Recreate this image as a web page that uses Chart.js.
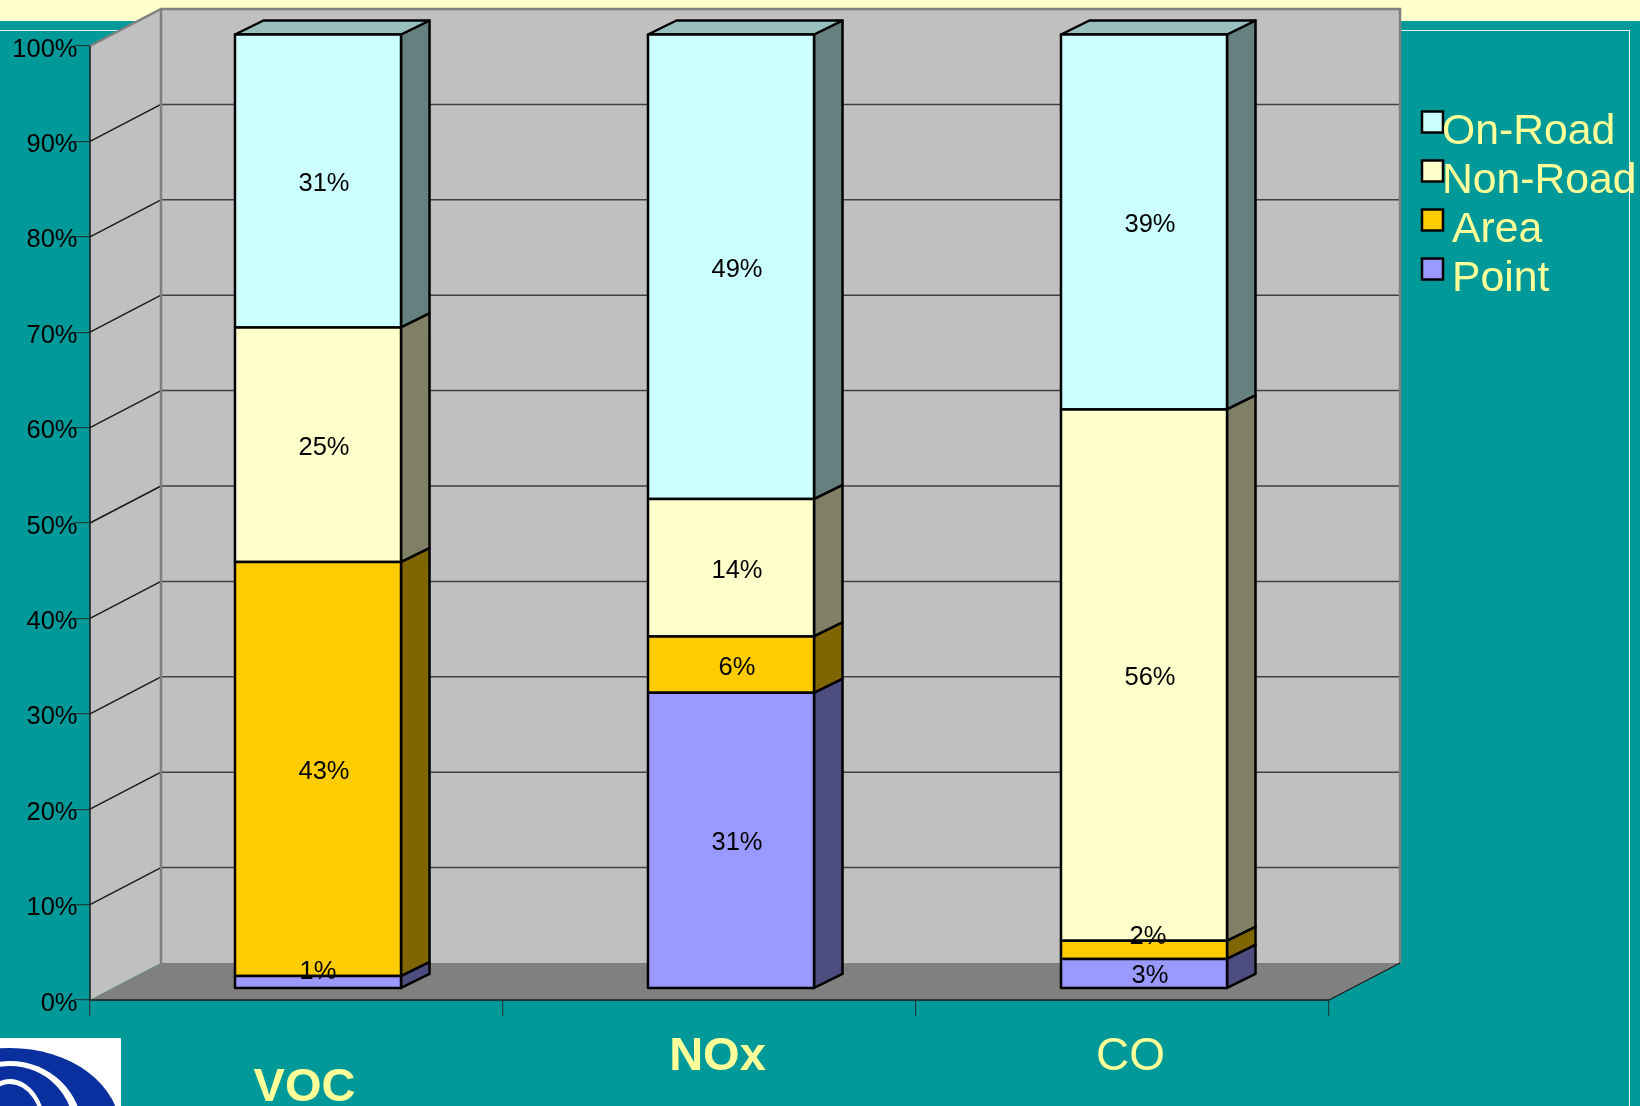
<!DOCTYPE html>
<html>
<head>
<meta charset="utf-8">
<title>Emissions by source</title>
<script src="https://cdn.jsdelivr.net/npm/chart.js@4/dist/chart.umd.min.js"></script>
<style>
  html, body { margin: 0; padding: 0; background: #009999; overflow: hidden; }
  #page { position: relative; width: 1640px; height: 1106px; background: #009999; overflow: hidden; }
  #band { position: absolute; left: 0; top: 0; width: 1640px; height: 21px; background: #FFFFCC; }
  #frame { position: absolute; left: -2px; top: 30px; width: 1630px; height: 1100px; border: 1px solid #E6F5F5; }
  #logo { position: absolute; left: 0; top: 1038px; }
  canvas { position: absolute; left: 0; top: 0; }
</style>
</head>
<body>
<div id="page">
  <div id="band"></div>
  <div id="frame"></div>
  <canvas id="chart" width="1640" height="1106"></canvas>
  <svg id="logo" width="121" height="68" viewBox="0 0 121 68">
    <rect width="121" height="68" fill="#FFFFFF"/>
    <ellipse cx="10" cy="92" rx="110" ry="82" fill="#0A2F9E"/>
    <ellipse cx="10" cy="92" rx="72" ry="69" fill="#FFFFFF"/>
    <ellipse cx="10" cy="92" rx="64" ry="64" fill="#0A2F9E"/>
    <ellipse cx="10" cy="92" rx="36" ry="51" fill="#FFFFFF"/>
    <ellipse cx="10" cy="92" rx="32" ry="46" fill="#0A2F9E"/>
  </svg>
</div>

<script>
const categories = ['VOC', 'NOx', 'CO'];
const pointValues = [1.3, 31.0, 3.1];
const areaValues = [43.4, 5.9, 1.9];
const nonRoadValues = [24.6, 14.4, 55.7];
const onRoadValues = [30.7, 48.7, 39.3];
const yTicks = [0, 10, 20, 30, 40, 50, 60, 70, 80, 90, 100];

// front colour of each stack, side and top faces are darker versions
const pointColor = [153, 153, 255];
const areaColor = [255, 204, 0];
const nonRoadColor = [255, 255, 204];
const onRoadColor = [204, 255, 255];

const font = '"Liberation Sans", Arial, sans-serif';
const yellow = '#FFFF99';

// offset of the 3D box
const wallDx = 71, wallDy = -37;   // front of the plot to the back wall
const barDx = 21.5, barDy = -11.5; // front of the plot to the front of the bars
const sideDx = 28.5, sideDy = -14; // depth of a bar

const legendTextX = [20, 20, 30, 30]; // the lower two labels are indented

const shade = (c, f) => 'rgb(' + c.map(v => Math.round(v * f)).join(',') + ')';

function poly(ctx, pts, fill, stroke, lw) {
  ctx.beginPath();
  pts.forEach((p, i) => i ? ctx.lineTo(p[0], p[1]) : ctx.moveTo(p[0], p[1]));
  ctx.closePath();
  if (fill) { ctx.fillStyle = fill; ctx.fill(); }
  if (stroke) { ctx.strokeStyle = stroke; ctx.lineWidth = lw; ctx.lineJoin = 'round'; ctx.stroke(); }
}

// walls, floor and the grid lines on them
const boxPlugin = {
  id: 'box',
  beforeDatasetsDraw(chart) {
    const ctx = chart.ctx, a = chart.chartArea, y = chart.scales.y;
    const L = a.left, R = a.right, T = y.getPixelForValue(100), B = y.getPixelForValue(0);
    ctx.save();
    poly(ctx, [[L + wallDx, T + wallDy], [R + wallDx, T + wallDy], [R + wallDx, B + wallDy], [L + wallDx, B + wallDy]], '#C0C0C0');
    poly(ctx, [[L, T], [L + wallDx, T + wallDy], [L + wallDx, B + wallDy], [L, B]], '#C0C0C0');
    poly(ctx, [[L, B], [L + wallDx, B + wallDy], [R + wallDx, B + wallDy], [R, B]], '#808080');

    ctx.lineWidth = 1.5;
    yTicks.forEach(v => {
      if (v === 0 || v === 100) return;
      const py = y.getPixelForValue(v);
      ctx.strokeStyle = '#404040';
      ctx.beginPath();
      ctx.moveTo(L + wallDx, py + wallDy);
      ctx.lineTo(R + wallDx, py + wallDy);
      ctx.stroke();
      ctx.strokeStyle = '#1A1A1A';
      ctx.beginPath();
      ctx.moveTo(L, py);
      ctx.lineTo(L + wallDx, py + wallDy);
      ctx.stroke();
    });

    // wall outline
    ctx.strokeStyle = '#808080';
    ctx.lineWidth = 2.5;
    ctx.beginPath();
    ctx.moveTo(L, T);
    ctx.lineTo(L + wallDx, T + wallDy);
    ctx.lineTo(R + wallDx, T + wallDy);
    ctx.lineTo(R + wallDx, B + wallDy);
    ctx.moveTo(L + wallDx, T + wallDy);
    ctx.lineTo(L + wallDx, B + wallDy);
    ctx.stroke();

    ctx.strokeStyle = '#1A1A1A';
    ctx.lineWidth = 1.2;
    ctx.beginPath();
    ctx.moveTo(R, B);
    ctx.lineTo(R + wallDx, B + wallDy);
    ctx.stroke();
    ctx.lineWidth = 1.5;
    ctx.beginPath();
    ctx.moveTo(L, T);
    ctx.lineTo(L, B);
    ctx.lineTo(R, B);
    ctx.stroke();
    ctx.restore();
  },
  // bars sit part way back in the box
  beforeDatasetDraw(chart, args) {
    const ctx = chart.ctx;
    ctx.save();
    ctx.translate(barDx, barDy);
    const ds = chart.data.datasets[args.index];
    const isTop = args.index === chart.data.datasets.length - 1;
    args.meta.data.forEach(bar => {
      const p = bar.getProps(['x', 'y', 'base', 'width'], true);
      const l = p.x - p.width / 2, r = p.x + p.width / 2;
      poly(ctx, [[r, p.y], [r + sideDx, p.y + sideDy], [r + sideDx, p.base + sideDy], [r, p.base]], shade(ds.rgb, 0.5), '#000000', 2.5);
      if (isTop) {
        poly(ctx, [[l, p.y], [l + sideDx, p.y + sideDy], [r + sideDx, p.y + sideDy], [r, p.y]], shade(ds.rgb, 0.75), '#000000', 2.5);
      }
    });
  },
  afterDatasetDraw(chart, args) {
    // outline on the bar edge, not inset, so shared edges stay one line
    const ctx = chart.ctx;
    args.meta.data.forEach(bar => {
      const p = bar.getProps(['x', 'y', 'base', 'width'], true);
      const l = p.x - p.width / 2, r = p.x + p.width / 2;
      poly(ctx, [[l, p.y], [r, p.y], [r, p.base], [l, p.base]], null, '#000000', 2.5);
    });
    ctx.restore();
  },
  afterDatasetsDraw(chart) {
    // value labels
    const ctx = chart.ctx;
    ctx.save();
    ctx.font = '25.5px ' + font;
    ctx.fillStyle = '#000000';
    ctx.textAlign = 'center';
    ctx.textBaseline = 'middle';
    chart.data.datasets.forEach((ds, i) => {
      chart.getDatasetMeta(i).data.forEach((bar, j) => {
        const p = bar.getProps(['x', 'y', 'base'], true);
        const v = ds.data[j];
        const ly = v < 2.5 ? p.y - 7 : (p.y + p.base) / 2;
        const nudge = v < 1.5 ? 0 : v < 2.5 ? 4 : 6;
        ctx.fillText(Math.round(v) + '%', p.x + barDx + nudge, ly + barDy + 3);
      });
    });

    // legend, top of the stack first
    const a = chart.chartArea;
    const x = a.right + 93;
    ctx.textAlign = 'left';
    ctx.font = '42.7px ' + font;
    chart.data.datasets.slice().reverse().forEach((ds, i) => {
      const top = 111.5 + i * 49;
      ctx.fillStyle = shade(ds.rgb, 1);
      ctx.fillRect(x, top, 21, 21);
      ctx.strokeStyle = '#000000';
      ctx.lineWidth = 2.5;
      ctx.strokeRect(x, top, 21, 21);
      ctx.fillStyle = yellow;
      ctx.fillText(ds.label, x + legendTextX[i], top + 21);
    });
    ctx.restore();
  }
};

const makeSet = (label, data, rgb) => ({
  label, data, rgb,
  backgroundColor: shade(rgb, 1),
  borderWidth: 0,
  categoryPercentage: 1,
  barPercentage: 0.402,
  clip: false
});

new Chart(document.getElementById('chart'), {
  type: 'bar',
  data: {
    labels: categories,
    datasets: [
      makeSet('Point', pointValues, pointColor),
      makeSet('Area', areaValues, areaColor),
      makeSet('Non-Road', nonRoadValues, nonRoadColor),
      makeSet('On-Road', onRoadValues, onRoadColor)
    ]
  },
  options: {
    responsive: false,
    animation: false,
    devicePixelRatio: 1,
    layout: { autoPadding: false, padding: { left: 0, right: 311, top: 46, bottom: 0 } },
    plugins: { legend: { display: false }, tooltip: { enabled: false } },
    scales: {
      x: {
        stacked: true,
        afterFit(scale) { scale.height = 106; },
        border: { display: false },
        grid: { offset: true, drawOnChartArea: false, drawTicks: true, tickLength: 16, color: '#1A4040', lineWidth: 1.2 },
        ticks: {
          autoSkip: false,
          maxRotation: 0,
          labelOffset: 8,
          padding: 26,
          color: yellow,
          callback(v, i) { return i === 0 ? ['', categories[i]] : categories[i]; },
          font: ctx => ({ family: font, size: ctx.index < 2 ? 47 : 46, lineHeight: '31px', weight: ctx.index < 2 ? 'bold' : 'normal' })
        }
      },
      y: {
        stacked: true,
        min: 0,
        max: 100,
        afterFit(scale) { scale.width = 90; },
        afterBuildTicks(scale) { scale.ticks = yTicks.map(v => ({ value: v })); },
        border: { display: false },
        grid: { drawOnChartArea: false, drawTicks: true, tickLength: 16, color: '#1A4040', lineWidth: 1.2 },
        ticks: {
          padding: -3.5,
          labelOffset: 3.5,
          color: '#000000',
          callback: v => v + '%',
          font: { family: font, size: 25.5 }
        }
      }
    }
  },
  plugins: [boxPlugin]
});
</script>
</body>
</html>
